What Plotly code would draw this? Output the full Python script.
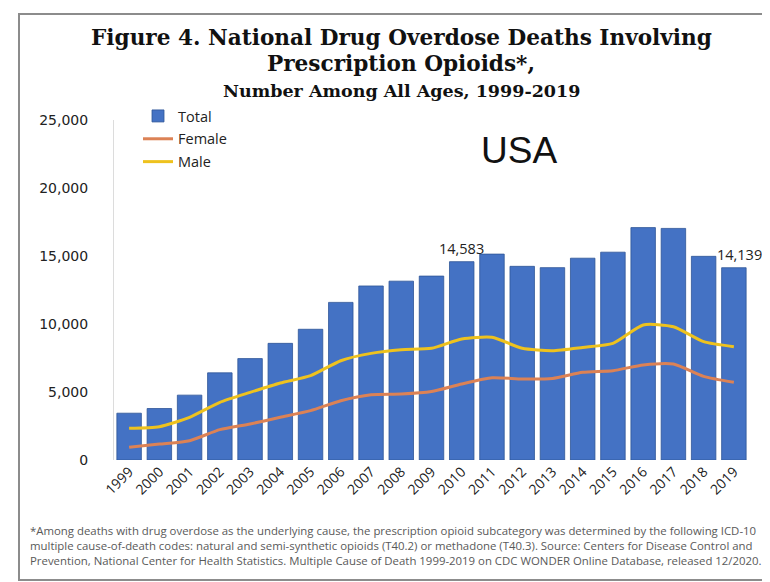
import plotly.graph_objects as go

# Prescription opioid overdose deaths, USA, 1999-2019
years = [str(y) for y in range(1999, 2020)]
total = [3442, 3785, 4770, 6409, 7456, 8577, 9612, 11589, 12796, 13149, 13523,
         14583, 15140, 14240, 14145, 14838, 15281, 17087, 17029, 14975, 14139]
female = [930, 1170, 1420, 2230, 2650, 3140, 3630, 4360, 4800, 4850, 5030,
          5590, 6050, 5960, 6000, 6450, 6570, 6990, 7060, 6150, 5710]
male = [2330, 2450, 3140, 4240, 4970, 5660, 6200, 7300, 7840, 8110, 8210,
        8900, 9020, 8210, 8040, 8280, 8580, 9930, 9800, 8700, 8330]
labelled_years = ['2010', '2019']

y_ticks = [0, 5000, 10000, 15000, 20000, 25000]

footnote = ("*Among deaths with drug overdose as the underlying cause, the prescription opioid subcategory "
            "was determined by the following ICD-10<br>multiple cause-of-death codes: natural and "
            "semi-synthetic opioids (T40.2) or methadone (T40.3). Source: Centers for Disease Control and"
            "<br>Prevention, National Center for Health Statistics. Multiple Cause of Death 1999-2019 on "
            "CDC WONDER Online Database, released 12/2020.")

W, H = 770, 582
L, R, T, B = 106, 29, 112, 130


def px(x):
    # pixel x -> paper x
    return (x - L) / (W - L - R)


def py(y):
    # pixel y (from top) -> paper y
    return (H - B - y) / (H - T - B)


fig = go.Figure()

fig.add_trace(go.Bar(
    x=years, y=total, name='Total',
    marker=dict(color='#4472C4', line=dict(color='#2F5597', width=0.8)),
    legendgroup='a'
))
fig.add_trace(go.Scatter(
    x=years, y=female, name='Female', mode='lines',
    line=dict(color='#DC8255', width=3, shape='spline', smoothing=0.6),
    legendgroup='b'
))
fig.add_trace(go.Scatter(
    x=years, y=male, name='Male', mode='lines',
    line=dict(color='#EEC21E', width=3, shape='spline', smoothing=0.6),
    legendgroup='c'
))

annotations = []
serif = 'DejaVu Serif'
annotations.append(dict(text='<b>Figure 4. National Drug Overdose Deaths Involving</b>',
                        x=px(393), y=py(29), font=dict(family=serif, size=21.6, color='#111')))
annotations.append(dict(text='<b>Prescription Opioids*,</b>',
                        x=px(393), y=py(56), font=dict(family=serif, size=21.6, color='#111')))
annotations.append(dict(text='<b>Number Among All Ages, 1999-2019</b>',
                        x=px(393), y=py(83), font=dict(family=serif, size=17.5, color='#111')))
annotations.append(dict(text='USA', x=px(511), y=py(142),
                        font=dict(family='Liberation Sans', size=37, color='#111')))
annotations.append(dict(text=footnote, x=px(20), y=py(537), xanchor='left', align='left',
                        font=dict(family='Open Sans', size=11.4, color='#595959')))
for a in annotations:
    a.update(xref='paper', yref='paper', showarrow=False)
    a.setdefault('xanchor', 'center')
    a.setdefault('yanchor', 'middle')

# value labels above selected bars (x given as category index)
for yr in labelled_years:
    i = years.index(yr)
    annotations.append(dict(x=i, y=total[i], xref='x', yref='y', text=f'{total[i]:,}',
                            showarrow=False, yanchor='bottom', yshift=2,
                            xshift=6 if yr == '2019' else 0,
                            font=dict(family='Open Sans', size=14.5, color='#222')))

fig.update_layout(
    width=W, height=H,
    margin=dict(l=L, r=R, t=T, b=B, autoexpand=False),
    paper_bgcolor='white', plot_bgcolor='white',
    bargap=0.19,
    showlegend=True,
    legend=dict(x=px(130), y=py(92), xanchor='left', yanchor='top',
                bgcolor='rgba(0,0,0,0)', tracegroupgap=1,
                font=dict(family='Open Sans', size=14.5, color='#222')),
    annotations=annotations,
    shapes=[dict(type='rect', xref='paper', yref='paper',
                 x0=px(11), x1=px(763), y0=py(572), y1=py(6),
                 line=dict(color='#8c8c8c', width=2), layer='below')],
    xaxis=dict(type='category', range=[-0.5, len(years) - 0.5], tickangle=-45,
               showgrid=False, showline=False, ticks='',
               tickfont=dict(family='Open Sans', size=14, color='#222')),
    yaxis=dict(range=[0, 25000], tickvals=y_ticks, tickformat=',', showgrid=False,
               zeroline=False, showline=True, linecolor='#dcdcdc', linewidth=1,
               ticks='', ticklabelstandoff=22,
               tickfont=dict(family='DejaVu Sans', size=14, color='#222')),
)

fig.write_html("out.html")
